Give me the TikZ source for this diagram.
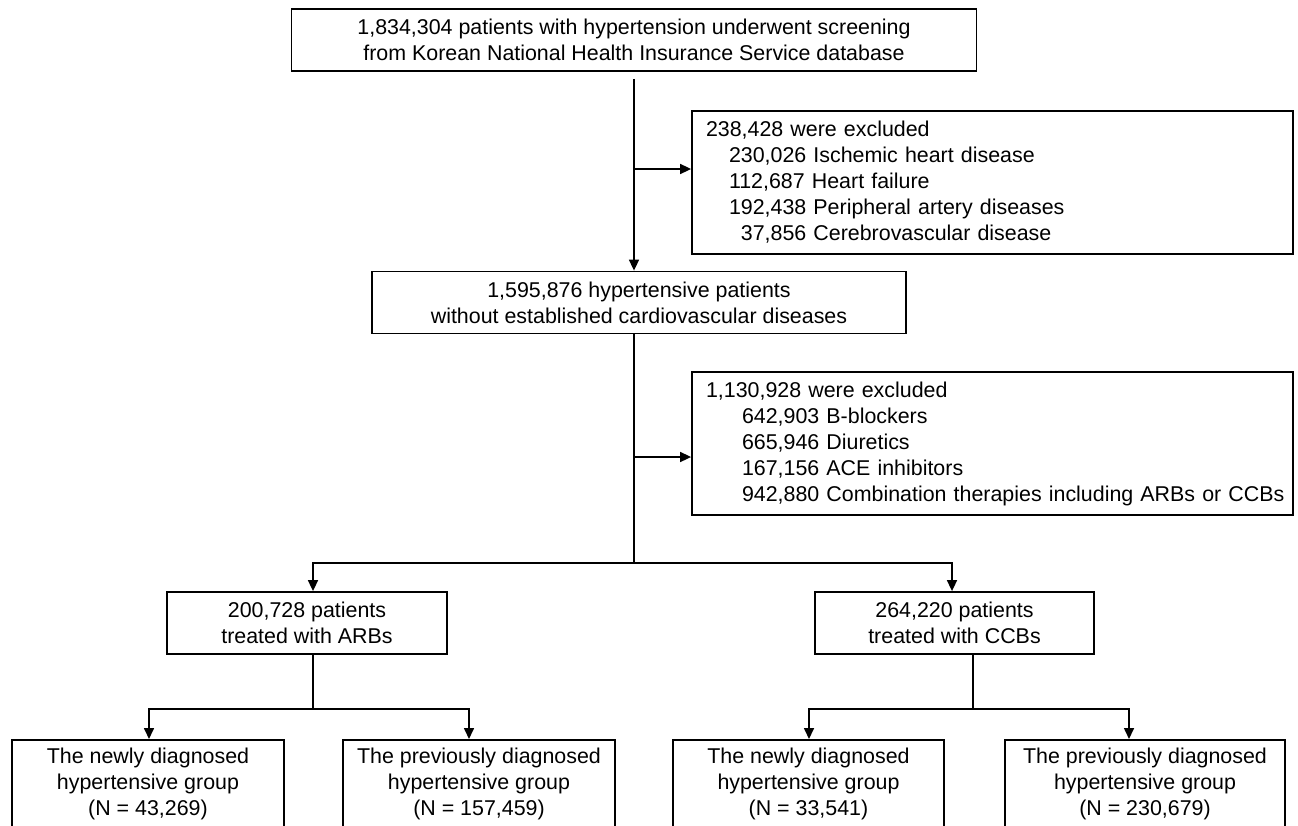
\documentclass[tikz,border=0pt]{standalone}
\usepackage{fontspec}
\setmainfont{Liberation Sans}
\usetikzlibrary{arrows.meta,positioning,calc}

\begin{document}
\begin{tikzpicture}[x=1pt,y=-1pt,>={Triangle[length=11pt,width=10pt]},every node/.style={font=\fontsize{21.4}{26}\selectfont, align=center}, box/.style={draw, line width=1.8pt, inner sep=0pt, minimum height=62pt}, exclbox/.style={draw, line width=1.8pt, align=left, text width=573pt, inner xsep=14pt, inner ysep=0pt, minimum height=143pt}, groupbox/.style={draw, line width=1.8pt, anchor=north, inner xsep=0pt, inner ysep=8pt}, link/.style={line width=1.6pt}]
        \useasboundingbox (0,0) rectangle (1298,825);
        \clip (0,0) rectangle (1298,825);
        \node[box, minimum width=685pt] (screen) at (634,40) {1,834,304 patients with hypertension underwent screening\\from Korean National Health Insurance Service database};
        \node[exclbox] (excl1) at (992.5,182.5) {238,428 were excluded\\\hspace*{23pt}230,026 Ischemic heart disease\\\hspace*{23pt}112,687 Heart failure\\\hspace*{23pt}192,438 Peripheral artery diseases\\\hspace*{23pt}\phantom{0}37,856 Cerebrovascular disease};
        \node[box, minimum width=534pt] (cohort) at (639,302.5) {1,595,876 hypertensive patients\\without established cardiovascular diseases};
        \node[exclbox] (excl2) at (992.5,443.5) {1,130,928 were excluded\\\hspace*{36pt}642,903 B-blockers\\\hspace*{36pt}665,946 Diuretics\\\hspace*{36pt}167,156 ACE inhibitors\\\hspace*{36pt}\mbox{942,880 Combination therapies including ARBs or CCBs}};
        \node[box, minimum width=280pt] (arb) at (307,623) {200,728 patients\\treated with ARBs};
        \node[box, minimum width=279pt] (ccb) at (954.5,623) {264,220 patients\\treated with CCBs};
        \node[groupbox, minimum width=272pt] (arbnew) at (148,739) {The newly diagnosed\\hypertensive group\\(N = 43,269)\rule[-30pt]{0pt}{30pt}};
        \node[groupbox, minimum width=272pt] (arbprev) at (479,739) {The previously diagnosed\\hypertensive group\\(N = 157,459)\rule[-30pt]{0pt}{30pt}};
        \node[groupbox, minimum width=271pt] (ccbnew) at (808.5,739) {The newly diagnosed\\hypertensive group\\(N = 33,541)\rule[-30pt]{0pt}{30pt}};
        \node[groupbox, minimum width=280pt] (ccbprev) at (1145,739) {The previously diagnosed\\hypertensive group\\(N = 230,679)\rule[-30pt]{0pt}{30pt}};
        \coordinate (in1) at ([yshift=13.5pt]excl1.west);
        \coordinate (in2) at ([yshift=-13.5pt]excl2.west);
        \coordinate (split) at (634,563);
        \coordinate (arbsplit) at ($(arb.south)+(6,54)$);
        \coordinate (ccbsplit) at ($(ccb.south)+(18.5,54)$);
        \draw[link, ->] ([yshift=-7pt]screen.south) -- (screen.south |- cohort.north);
        \draw[link, ->] (in1 -| screen.south) -- (in1);
        \draw[link] (screen.south |- cohort.south) -- (split);
        \draw[link, ->] (in2 -| split) -- (in2);
        \draw[link, ->] (split) -| ([xshift=6pt]arb.north);
        \draw[link, ->] (split) -| ([xshift=-2.5pt]ccb.north);
        \draw[link] ([xshift=6pt]arb.south) -- (arbsplit);
        \draw[link, ->] (arbsplit) -| ([xshift=1pt]arbnew.north);
        \draw[link, ->] (arbsplit) -| ([xshift=-10pt]arbprev.north);
        \draw[link] ([xshift=18.5pt]ccb.south) -- (ccbsplit);
        \draw[link, ->] (ccbsplit) -| ([xshift=0.5pt]ccbnew.north);
        \draw[link, ->] (ccbsplit) -| ([xshift=-16pt]ccbprev.north);
    \end{tikzpicture}
\end{document}
